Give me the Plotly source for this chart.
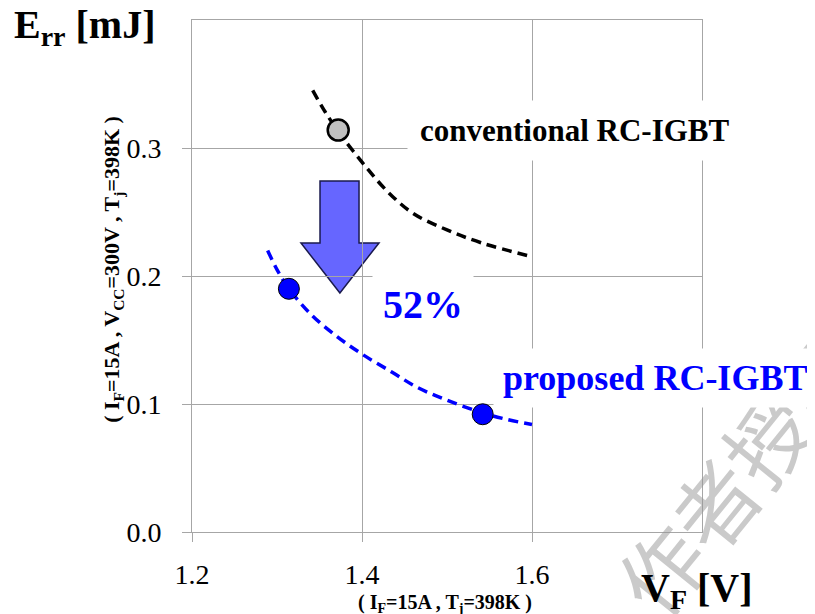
import plotly.graph_objects as go

# ---- data ----
conv_curve_x = [1.342, 1.355, 1.372, 1.40, 1.43, 1.46, 1.50, 1.54, 1.60]
conv_curve_y = [0.345, 0.330, 0.313, 0.289, 0.266, 0.249, 0.236, 0.226, 0.215]
conv_point_x = [1.372]
conv_point_y = [0.314]

prop_curve_x = [1.289, 1.300, 1.314, 1.34, 1.37, 1.40, 1.435, 1.465, 1.50, 1.542, 1.57, 1.60]
prop_curve_y = [0.220, 0.205, 0.190, 0.170, 0.153, 0.139, 0.125, 0.113, 0.103, 0.093, 0.088, 0.084]
prop_point_x = [1.314, 1.542]
prop_point_y = [0.190, 0.092]

x_ticks = [1.2, 1.4, 1.6]
y_ticks = [0.0, 0.1, 0.2, 0.3]

# arrow (data coords)
ar_shaft_l, ar_shaft_r = 1.3506, 1.3965
ar_head_l, ar_head_r = 1.3282, 1.42
ar_tip_x = 1.374
ar_top, ar_neck, ar_tip_y = 0.2742, 0.2258, 0.1867

SERIF = "Liberation Serif"
GRID = "#a6a6a6"

fig = go.Figure()
fig.add_trace(go.Scatter(x=conv_curve_x, y=conv_curve_y, mode="lines",
                         line=dict(color="black", width=3.5, dash="10px,6px", shape="spline"),
                         hoverinfo="skip"))
fig.add_trace(go.Scatter(x=prop_curve_x, y=prop_curve_y, mode="lines",
                         line=dict(color="#0000ff", width=3.5, dash="10px,6px", shape="spline"),
                         hoverinfo="skip"))
fig.add_trace(go.Scatter(x=conv_point_x, y=conv_point_y, mode="markers",
                         marker=dict(size=21, color="#c0c0c0", line=dict(color="black", width=2.5))))
fig.add_trace(go.Scatter(x=prop_point_x, y=prop_point_y, mode="markers",
                         marker=dict(size=21, color="#0000ff", line=dict(color="black", width=1))))

arrow_path = (f"M {ar_shaft_l},{ar_top} L {ar_shaft_r},{ar_top} L {ar_shaft_r},{ar_neck} "
              f"L {ar_head_r},{ar_neck} L {ar_tip_x},{ar_tip_y} L {ar_head_l},{ar_neck} "
              f"L {ar_shaft_l},{ar_neck} Z")
fig.add_shape(type="path", path=arrow_path, xref="x", yref="y", layer="below",
              fillcolor="#6666ff", line=dict(color="#1a1a4d", width=1.5))

annotations = [
    dict(text="作者授权", x=1.072, y=0.12, xref="paper", yref="paper", textangle=-51,
         xanchor="center", yanchor="middle", showarrow=False,
         font=dict(family="Noto Sans CJK SC", size=84, color="rgba(150,150,150,0.5)")),
    dict(text="<b>conventional RC-IGBT</b>", x=1.65, y=0.314, xref="x", yref="y",
         xanchor="center", yanchor="middle", showarrow=False,
         font=dict(family=SERIF, size=31, color="black"),
         bgcolor="white", borderpad=12),
    dict(text="<b>52%</b>", x=1.4718, y=0.178, xref="x", yref="y",
         xanchor="center", yanchor="middle", showarrow=False,
         font=dict(family=SERIF, size=40, color="#0000ff"),
         bgcolor="white", borderpad=10),
    dict(text="<b>proposed RC-IGBT</b>", x=1.745, y=0.120, xref="x", yref="y",
         xanchor="center", yanchor="middle", showarrow=False,
         font=dict(family=SERIF, size=36, color="#0000ff"),
         bgcolor="white", borderpad=9),
    dict(text="<b>E<sub>rr</sub> [mJ]</b>", x=-0.353, y=0.986, xref="paper", yref="paper",
         xanchor="left", yanchor="middle", showarrow=False,
         font=dict(family=SERIF, size=40, color="black")),
    dict(text="<b>V<sub>F</sub> [V]</b>", x=0.99, y=-0.113, xref="paper", yref="paper",
         xanchor="center", yanchor="middle", showarrow=False,
         font=dict(family=SERIF, size=40, color="black")),
    dict(text="<b>( I<sub>F</sub>=15A , T<sub>j</sub>=398K )</b>", x=0.496, y=-0.139,
         xref="paper", yref="paper", xanchor="center", yanchor="middle", showarrow=False,
         font=dict(family=SERIF, size=20, color="black")),
    dict(text="<b>( I<sub>F</sub>=15A , V<sub>CC</sub>=300V , T<sub>j</sub>=398K )</b>",
         x=-0.155, y=0.514, xref="paper", yref="paper", textangle=-90,
         xanchor="center", yanchor="middle", showarrow=False,
         font=dict(family=SERIF, size=22, color="black")),
]

fig.update_layout(
    width=815, height=614,
    margin=dict(l=184, r=121, t=12, b=90, autoexpand=False),
    paper_bgcolor="white", plot_bgcolor="white",
    showlegend=False,
    annotations=annotations,
    xaxis=dict(range=[1.2, 1.8], tickvals=x_ticks, tickformat=".1f", automargin=False,
               showgrid=True, gridcolor=GRID, gridwidth=1,
               showline=True, linecolor=GRID, linewidth=1, mirror=True,
               ticks="outside", ticklen=9, tickcolor=GRID,
               tickfont=dict(family=SERIF, size=28, color="black"),
               ticklabelstandoff=8, zeroline=False),
    yaxis=dict(range=[0, 0.4], tickvals=y_ticks, tickformat=".1f", automargin=False,
               showgrid=True, gridcolor=GRID, gridwidth=1,
               showline=True, linecolor=GRID, linewidth=1, mirror=True,
               ticks="outside", ticklen=9, tickcolor=GRID,
               tickfont=dict(family=SERIF, size=28, color="black"),
               ticklabelstandoff=15, zeroline=False),
)

fig.write_html("out.html")
